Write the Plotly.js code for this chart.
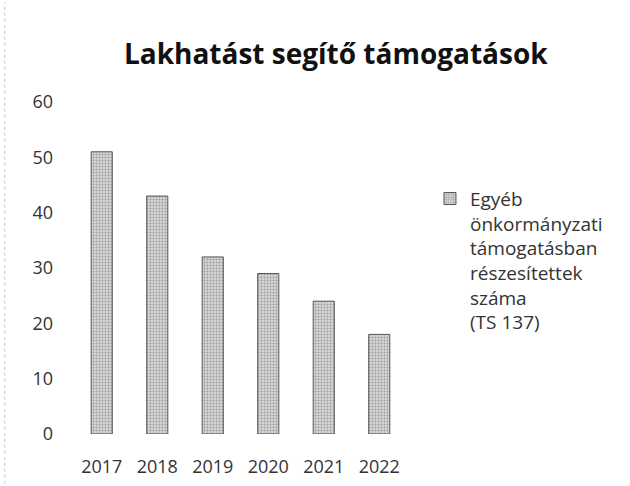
<!DOCTYPE html>
<html>
<head>
<meta charset="utf-8">
<script src="https://cdn.plot.ly/plotly-3.0.1.min.js"></script>
<style>body{margin:0;background:#fff}#chart{width:630px;height:486px}</style>
</head>
<body>
<div id="chart"></div>
<script>
const years = ["2017", "2018", "2019", "2020", "2021", "2022"];
const values = [51, 43, 32, 29, 24, 18];
const seriesName = "Egyéb<br>önkormányzati<br>támogatásban<br>részesítettek<br>száma<br>(TS 137)";
const titleText = "Lakhatást segítő támogatások";
const yTicks = [0, 10, 20, 30, 40, 50, 60];

const trace = {
  type: "bar",
  x: years,
  y: values,
  name: seriesName,
  showlegend: true,
  marker: {
    color: "#d0d0d0",
    pattern: {shape: ".", fgcolor: "#9a9a9a", bgcolor: "#d6d6d6", size: 3, solidity: 0.3},
    line: {color: "#555", width: 1}
  },
  hoverinfo: "x+y"
};

const layout = {
  width: 630, height: 486,
  margin: {l: 74, r: 223, t: 102, b: 52},
  paper_bgcolor: "#fff", plot_bgcolor: "#fff",
  font: {family: "Open Sans, sans-serif", color: "#333", size: 18},
  title: {text: "<b>" + titleText + "</b>", font: {size: 28, color: "#111"},
          xref: "container", x: 0.533, xanchor: "center", yref: "container", y: 0.888, yanchor: "middle"},
  bargap: 0.62,
  xaxis: {type: "category", showgrid: false, zeroline: false, showline: false, ticks: "",
          ticklabelstandoff: 20, tickfont: {size: 18, color: "#333"}},
  yaxis: {range: [0, 60], tickvals: yTicks, showgrid: false, zeroline: false, showline: false,
          ticks: "", ticklabelstandoff: 20, tickfont: {size: 18, color: "#333"}},
  showlegend: true,
  legend: {x: 1.069, xanchor: "left", y: 0.766, yanchor: "top", valign: "top",
           font: {size: 19, color: "#333"}, itemwidth: 30, tracegroupgap: 0},
  shapes: [{type: "line", xref: "paper", yref: "paper", x0: -0.208, x1: -0.208, y0: -0.15, y1: 1.3,
            line: {color: "#c8c8c8", width: 1, dash: "dot"}}]
};

Plotly.newPlot("chart", [trace], layout, {displayModeBar: false, staticPlot: true});
</script>
</body>
</html>
